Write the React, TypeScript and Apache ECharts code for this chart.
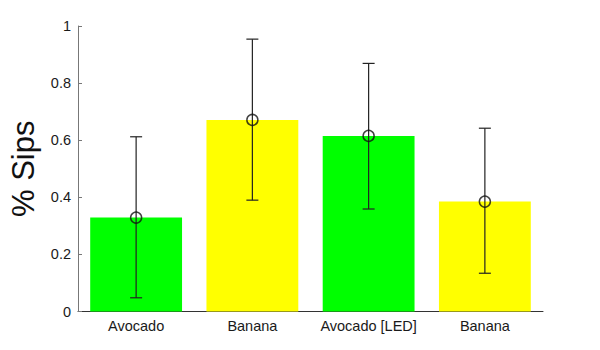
import React, { useEffect, useRef } from "react";
import * as echarts from "echarts";

const categories = ["Avocado", "Banana", "Avocado [LED]", "Banana"];
const means = [0.329, 0.671, 0.615, 0.385];
const errLow = [0.048, 0.39, 0.359, 0.134];
const errHigh = [0.612, 0.954, 0.869, 0.642];
const barColors = ["#00ff00", "#ffff00", "#00ff00", "#ffff00"];
const yTicks = [0, 0.2, 0.4, 0.6, 0.8, 1];

export default function App() {
  const ref = useRef<HTMLDivElement>(null);
  useEffect(() => {
    if (!ref.current) return;
    const chart = echarts.init(ref.current, undefined, { renderer: "svg" });
    const font = "Helvetica, Arial, 'Liberation Sans', sans-serif";
    chart.setOption({
      animation: false,
      grid: { left: 78, right: 57, top: 26, bottom: 38.5 },
      xAxis: {
        type: "category",
        data: categories,
        z: 0,
        axisLine: { lineStyle: { color: "#333", width: 1 } },
        axisTick: { show: false },
        axisLabel: { color: "#1a1a1a", fontSize: 14.5, fontFamily: font, margin: 7, interval: 0 },
      },
      yAxis: {
        type: "value",
        min: 0,
        max: 1,
        interval: 0.2,
        name: "% Sips",
        nameLocation: "middle",
        nameRotate: 90,
        nameGap: 39,
        nameTextStyle: { fontSize: 31, color: "#111", fontFamily: font },
        splitLine: { show: false },
        axisLine: { show: true, lineStyle: { color: "#777", width: 1 } },
        axisTick: { show: true, inside: true, length: 4, lineStyle: { color: "#777" } },
        axisLabel: {
          color: "#1a1a1a",
          fontSize: 14.5,
          fontFamily: font,
          margin: 7,
          formatter: (v: number) => (yTicks.includes(Math.round(v * 10) / 10) ? String(Math.round(v * 10) / 10) : ""),
        },
      },
      series: [
        {
          type: "bar",
          data: means.map((v, i) => ({ value: v, itemStyle: { color: barColors[i] } })),
          barWidth: "79%",
          z: 2,
        },
        {
          type: "custom",
          z: 3,
          data: categories.map((_, i) => [i, errLow[i], errHigh[i]]),
          renderItem: (params: any, api: any) => {
            const x = api.value(0);
            const lo = api.coord([x, api.value(1)]);
            const hi = api.coord([x, api.value(2)]);
            const cap = 6;
            const style = { stroke: "#222", lineWidth: 1.2 };
            return {
              type: "group",
              children: [
                { type: "line", shape: { x1: lo[0], y1: lo[1], x2: hi[0], y2: hi[1] }, style },
                { type: "line", shape: { x1: hi[0] - cap, y1: hi[1], x2: hi[0] + cap, y2: hi[1] }, style },
                { type: "line", shape: { x1: lo[0] - cap, y1: lo[1], x2: lo[0] + cap, y2: lo[1] }, style },
              ],
            };
          },
        },
        {
          type: "scatter",
          z: 4,
          data: means.map((v, i) => [i, v]),
          symbol: "circle",
          symbolSize: 11,
          itemStyle: { color: "rgba(0,0,0,0)", borderColor: "#111", borderWidth: 1.5 },
        },
      ],
    });
    return () => chart.dispose();
  }, []);
  return <div ref={ref} style={{ width: 600, height: 350, margin: -8 }} />;
}
